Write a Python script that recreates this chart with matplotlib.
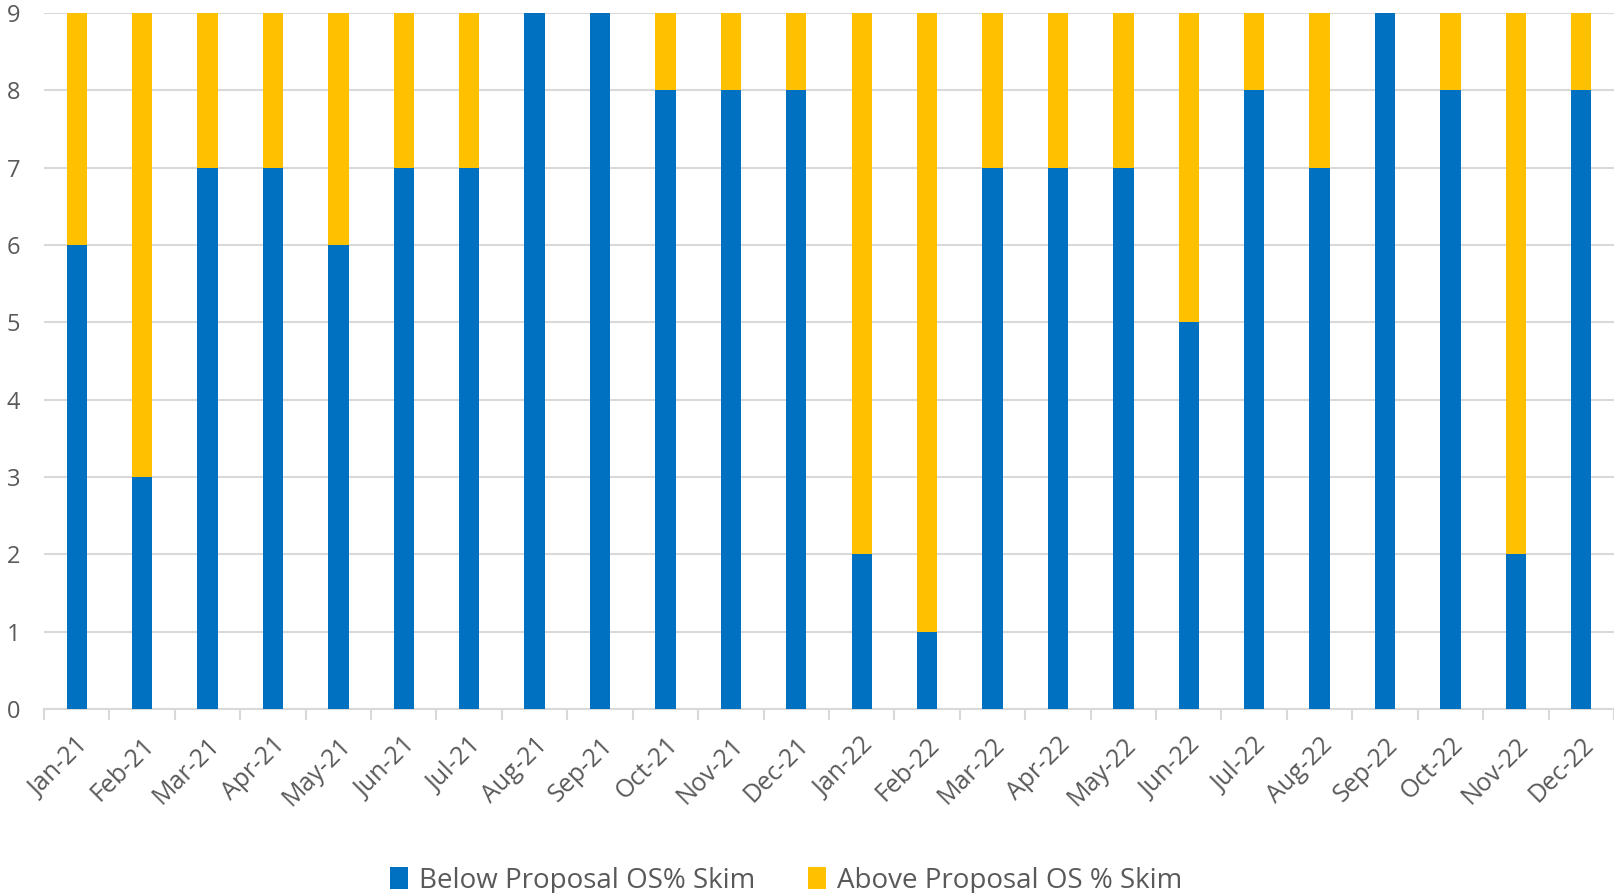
import matplotlib.pyplot as plt
import numpy as np

# Monthly counts
MONTHS = ['Jan-21', 'Feb-21', 'Mar-21', 'Apr-21', 'May-21', 'Jun-21',
          'Jul-21', 'Aug-21', 'Sep-21', 'Oct-21', 'Nov-21', 'Dec-21',
          'Jan-22', 'Feb-22', 'Mar-22', 'Apr-22', 'May-22', 'Jun-22',
          'Jul-22', 'Aug-22', 'Sep-22', 'Oct-22', 'Nov-22', 'Dec-22']
BELOW = [6, 3, 7, 7, 6, 7, 7, 9, 9, 8, 8, 8,
         2, 1, 7, 7, 7, 5, 8, 7, 9, 8, 2, 8]
ABOVE = [3, 6, 2, 2, 3, 2, 2, 0, 0, 1, 1, 1,
         7, 8, 2, 2, 2, 4, 1, 2, 0, 1, 7, 1]
Y_TICKS = list(range(0, 10))

BLUE = '#0070C0'
YELLOW = '#FFC000'
GRID = '#D9D9D9'
TEXT = '#595959'

plt.rcParams['font.family'] = ['Open Sans', 'DejaVu Sans']

fig = plt.figure(figsize=(16.14, 8.93), dpi=100)
ax = fig.add_axes([44 / 1614, 1 - 709 / 893, 1 - 44 / 1614, (709 - 13) / 893])

x = np.arange(len(MONTHS))
width = 0.31
ax.bar(x, BELOW, width, color=BLUE, zorder=3, label='Below Proposal OS% Skim')
ax.bar(x, ABOVE, width, bottom=BELOW, color=YELLOW, zorder=3,
       label='Above Proposal OS % Skim')

ax.set_xlim(-0.5, len(MONTHS) - 0.5)
ax.set_ylim(0, 9)
ax.set_yticks(Y_TICKS)
ax.yaxis.grid(True, color=GRID, linewidth=1.5, zorder=0)
ax.tick_params(axis='y', length=0, pad=17, labelsize=17, labelcolor=TEXT)

ax.set_xticks(x)
ax.set_xticklabels(MONTHS, rotation=45, ha='right', rotation_mode='anchor')
ax.set_xticks(np.arange(-0.5, len(MONTHS)), minor=True)
ax.tick_params(axis='x', which='major', length=0, pad=17, labelsize=18,
               labelcolor=TEXT)
ax.tick_params(axis='x', which='minor', length=8, width=1.5, color=GRID)

for side in ['top', 'right', 'left']:
    ax.spines[side].set_visible(False)
ax.spines['bottom'].set_color(GRID)
ax.spines['bottom'].set_linewidth(1.5)

leg = fig.legend(loc='center', bbox_to_anchor=(0.487, 1 - 881 / 893), ncol=2,
                 frameon=False, fontsize=20, handlelength=0.65, handleheight=0.85,
                 handletextpad=0.4, columnspacing=1.9)
for t in leg.get_texts():
    t.set_color(TEXT)

fig.savefig('out.png', dpi=100)
